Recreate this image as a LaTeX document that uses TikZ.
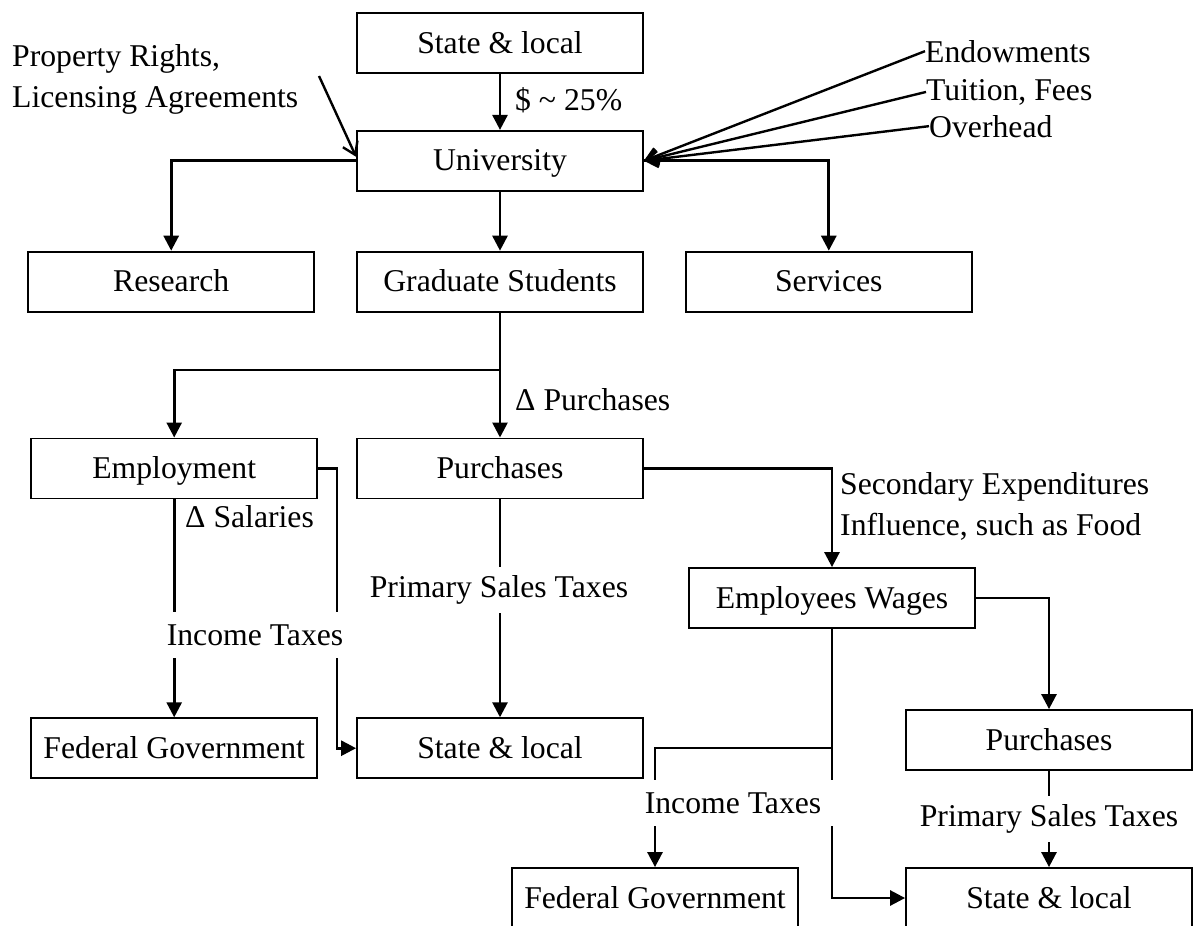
\documentclass[tikz,border=0pt]{standalone}
\usepackage{fontspec}
\setmainfont{Liberation Serif}
\usepackage{tikz}
\usetikzlibrary{arrows.meta,positioning,calc}
\tikzset{
  unitbox/.style={draw, line width=1.8pt, minimum width=286pt, minimum height=60pt,
                  inner sep=0pt, text height=24pt, text depth=4pt},
  flowline/.style={-{Triangle[length=15pt,width=15pt]}, line width=2.7pt},
  barbline/.style={-{Straight Barb[length=12pt,width=16pt]}, line width=2.4pt},
  tag/.style={inner sep=0pt, align=left},
  gaptag/.style={fill=white, inner xsep=2pt, inner ysep=0pt, minimum height=46pt},
}

\begin{document}
\begin{tikzpicture}[x=1pt, y=-1pt, font=\fontsize{31.7}{41.5}\selectfont]
  \useasboundingbox (0,0) rectangle (1197,926);

  \node[unitbox] (stateTop) at (500,43) {State \& local};
  \node[unitbox, below=56pt of stateTop] (univ) {University};
  \node[unitbox, below=59pt of univ] (grad) {Graduate Students};
  \node[unitbox, left=41pt of grad] (research) {Research};
  \node[unitbox, right=41pt of grad] (services) {Services};
  \node[unitbox, below=125pt of grad] (purch) {Purchases};
  \node[unitbox, left=38pt of purch] (employ) {Employment};
  \node[unitbox, below=218pt of purch] (stateMid) {State \& local};
  \node[unitbox, left=38pt of stateMid] (fedLeft) {Federal Government};
  \node[unitbox] (wages) at (832,598) {Employees Wages};
  \node[unitbox] (purchRight) at (1049,740) {Purchases};
  \node[unitbox] (fedBottom) at (655,898) {Federal Government};
  \node[unitbox] (stateBottom) at (1049,898) {State \& local};

  \node[tag, anchor=west] (pctLbl) at (515,100) {\$ \textasciitilde{} 25\%};
  \node[tag, anchor=north west] (propLbl) at (12,44) {Property Rights,\\Licensing Agreements};
  \coordinate (propTip) at (319,76);
  \node[tag, anchor=base west] (endowLbl) at (925,62) {Endowments};
  \node[tag, anchor=base west] (tuitionLbl) at (926,100) {Tuition, Fees};
  \node[tag, anchor=base west] (overheadLbl) at (929,137) {Overhead};
  \coordinate (gradSplit) at (500,370);
  \node[tag, anchor=west] (dPurchLbl) at (515,400) {Δ Purchases};
  \node[tag, anchor=west] (dSalLbl) at (185,517) {Δ Salaries};
  \node[tag, anchor=north west] (secLbl) at (840,472)
    {Secondary Expenditures\\Influence, such as Food};
  \coordinate (wagesSplit) at (832,748);

  \draw[flowline] (stateTop) -- (univ);
  \draw[barbline] (propTip) -- ([yshift=4pt]univ.west);
  \draw[barbline] (endowLbl.west) -- (univ.east);
  \draw[barbline] (tuitionLbl.west) -- (univ.east);
  \draw[barbline] (overheadLbl.west) -- (univ.east);
  \draw[flowline] (univ.west) -| (research.north);
  \draw[flowline] (univ.east) -| (services.north);
  \draw[flowline] (univ) -- (grad);
  \draw[flowline] (grad) -- (gradSplit) -| (employ);
  \draw[flowline] (grad) -- (purch);
  \draw[flowline] (employ) -- (fedLeft);
  \draw[flowline] (employ.east) -- ++(19,0) |- (stateMid.west);
  \draw[flowline] (purch) -- (stateMid);
  \draw[flowline] (purch.east) -| (wages.north);
  \draw[flowline] (wages.east) -| (purchRight.north);
  \draw[flowline] (wages) -- (wagesSplit) -| (fedBottom);
  \draw[flowline] (wages.south) |- (stateBottom.west);
  \draw[flowline] (purchRight) -- (stateBottom);

  \node[gaptag] (incLeftLbl) at (255,635) {Income Taxes};
  \node[gaptag] (salesMidLbl) at (499,590) {Primary Sales Taxes};
  \node[gaptag, inner xsep=14pt] (incRightLbl) at (733,803) {Income Taxes};
  \node[gaptag] (salesRightLbl) at (1049,819) {Primary Sales Taxes};
\end{tikzpicture}
\end{document}
